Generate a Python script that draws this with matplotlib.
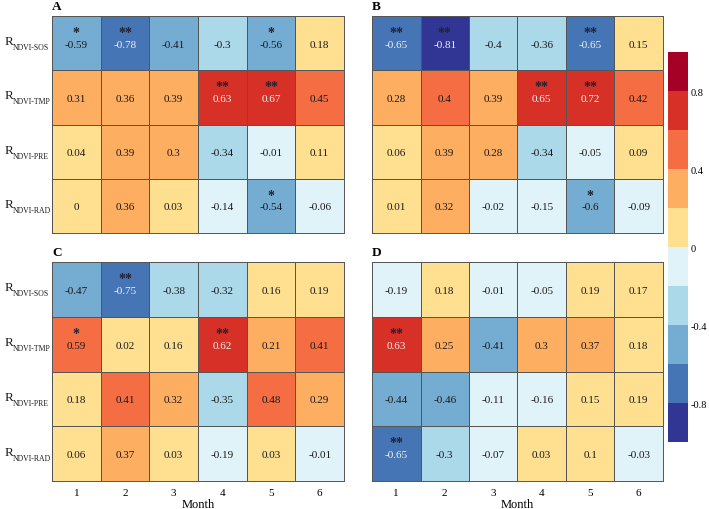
import numpy as np
import matplotlib
matplotlib.use("Agg")
import matplotlib.pyplot as plt
from matplotlib.colors import ListedColormap, BoundaryNorm
from matplotlib.cm import ScalarMappable

plt.rcParams['font.family'] = ['Liberation Serif', 'DejaVu Serif']
plt.rcParams['axes.unicode_minus'] = False

# data
months = [1, 2, 3, 4, 5, 6]
row_names = ['SOS', 'TMP', 'PRE', 'RAD']
panel_names = ['A', 'B', 'C', 'D']

vals_a = [[-0.59, -0.78, -0.41, -0.3, -0.56, 0.18],
          [0.31, 0.36, 0.39, 0.63, 0.67, 0.45],
          [0.04, 0.39, 0.3, -0.34, -0.01, 0.11],
          [0, 0.36, 0.03, -0.14, -0.54, -0.06]]
vals_b = [[-0.65, -0.81, -0.4, -0.36, -0.65, 0.15],
          [0.28, 0.4, 0.39, 0.65, 0.72, 0.42],
          [0.06, 0.39, 0.28, -0.34, -0.05, 0.09],
          [0.01, 0.32, -0.02, -0.15, -0.6, -0.09]]
vals_c = [[-0.47, -0.75, -0.38, -0.32, 0.16, 0.19],
          [0.59, 0.02, 0.16, 0.62, 0.21, 0.41],
          [0.18, 0.41, 0.32, -0.35, 0.48, 0.29],
          [0.06, 0.37, 0.03, -0.19, 0.03, -0.01]]
vals_d = [[-0.19, 0.18, -0.01, -0.05, 0.19, 0.17],
          [0.63, 0.25, -0.41, 0.3, 0.37, 0.18],
          [-0.44, -0.46, -0.11, -0.16, 0.15, 0.19],
          [-0.65, -0.3, -0.07, 0.03, 0.1, -0.03]]

# significance: 0 none, 1 '*', 2 '**'
sig_a = [[1, 2, 0, 0, 1, 0], [0, 0, 0, 2, 2, 0], [0, 0, 0, 0, 0, 0], [0, 0, 0, 0, 1, 0]]
sig_b = [[2, 2, 0, 0, 2, 0], [0, 0, 0, 2, 2, 0], [0, 0, 0, 0, 0, 0], [0, 0, 0, 0, 1, 0]]
sig_c = [[0, 2, 0, 0, 0, 0], [1, 0, 0, 2, 0, 0], [0, 0, 0, 0, 0, 0], [0, 0, 0, 0, 0, 0]]
sig_d = [[0, 0, 0, 0, 0, 0], [2, 0, 0, 0, 0, 0], [0, 0, 0, 0, 0, 0], [2, 0, 0, 0, 0, 0]]

cb_ticks = [-0.8, -0.4, 0, 0.4, 0.8]

colors = ['#313695', '#4575b4', '#74add1', '#abd9e9', '#e0f3f8',
          '#fee090', '#fdae61', '#f46d43', '#d73027', '#a50026']
cmap = ListedColormap(colors)
bounds = np.round(np.linspace(-1, 1, 11), 2)
norm = BoundaryNorm(bounds, cmap.N)

W, H = 709, 510
fig = plt.figure(figsize=(W / 100, H / 100), dpi=100)

# axes boxes in pixels: left, right, top, bottom
boxes = [(52, 344, 17, 234), (372, 663, 17, 234),
         (52, 344, 263, 482), (372, 663, 263, 482)]
all_vals = [vals_a, vals_b, vals_c, vals_d]
all_sig = [sig_a, sig_b, sig_c, sig_d]

for i, (l, r, t, b) in enumerate(boxes):
    ax = fig.add_axes([l / W, 1 - b / H, (r - l) / W, (b - t) / H])
    data = np.array(all_vals[i], dtype=float)
    sig = np.array(all_sig[i])
    ax.pcolormesh(np.arange(7) + 0.5, np.arange(5) - 0.5, data, cmap=cmap, norm=norm,
                  edgecolors='#555555', linewidth=0.7)
    ax.set_xlim(0.5, 6.5)
    ax.set_ylim(3.5, -0.5)
    for j in range(4):
        for k in range(6):
            v = data[j, k]
            tc = '#f2f2f2' if (v > 0.6 or v < -0.6) else '#1a1a1a'
            ax.text(months[k], j + 0.02, f'{v:g}', ha='center', va='center',
                    fontsize=8, color=tc)
            if sig[j, k] > 0:
                ax.text(months[k], j - 0.2, '*' * sig[j, k], ha='center', va='center',
                        fontsize=10, color='#222233', fontweight='bold')
    for s in ax.spines.values():
        s.set_color('#555555')
        s.set_linewidth(0.7)
    ax.tick_params(length=0)
    ax.set_yticks([])
    if i % 2 == 0:
        # row labels: R with a small subscript
        row_h = (b - t) / 4
        for j, n in enumerate(row_names):
            yc = t + row_h * (j + 0.5)
            fig.text(5 / W, 1 - (yc - 2) / H, 'R', fontsize=9.5,
                     ha='left', va='center', color='#1a1a1a')
            fig.text(13 / W, 1 - (yc + 4) / H, 'NDVI-' + n, fontsize=5.6,
                     ha='left', va='center', color='#1a1a1a')
    if i >= 2:
        ax.set_xticks(months)
        ax.set_xticklabels([str(m) for m in months], fontsize=8)
        ax.tick_params(axis='x', pad=5)
        ax.set_xlabel('Month', fontsize=9, labelpad=1)
    else:
        ax.set_xticks([])
    fig.text(l / W, 1 - (t - 10) / H, panel_names[i], fontsize=9.5,
             fontweight='bold', ha='left', va='center')

cax = fig.add_axes([668 / W, 1 - 443 / H, 20 / W, (443 - 53) / H])
cb = fig.colorbar(ScalarMappable(norm=norm, cmap=cmap), cax=cax, ticks=cb_ticks)
cb.outline.set_visible(False)
cb.ax.minorticks_off()
cb.ax.set_yticklabels([f'{t:g}' for t in cb_ticks])
cb.ax.tick_params(labelsize=7.5, length=0, pad=2)

fig.savefig('out.png', dpi=100)
